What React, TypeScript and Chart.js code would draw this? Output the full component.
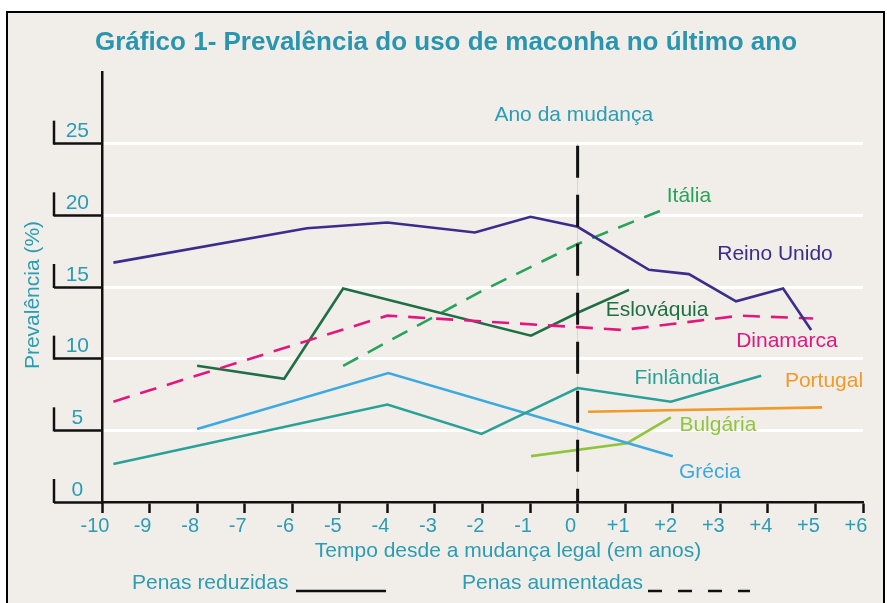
import React, { useEffect, useRef } from 'react';
import { Chart, registerables } from 'chart.js';

Chart.register(...registerables);

const TEAL = '#2a9cb4';
const TITLE_TEAL = '#2a95ae';
const BG = '#f1eee9';
const FONT = '"Liberation Sans", Arial, sans-serif';

const titleText = 'Gráfico 1- Prevalência do uso de maconha no último ano';
const xAxisTitle = 'Tempo desde a mudança legal (em anos)';
const yAxisTitle = 'Prevalência (%)';
const changeLabel = 'Ano da mudança';
const legendReduced = 'Penas reduzidas';
const legendIncreased = 'Penas aumentadas';

const yTickValues = [0, 5, 10, 15, 20, 25];

const reinoUnidoX = [-9.76, -5.69, -4.0, -2.16, -0.99, 0, 1.5, 2.34, 3.33, 4.32, 4.91];
const reinoUnidoY = [16.7, 19.1, 19.5, 18.8, 19.9, 19.2, 16.2, 15.9, 14.0, 14.9, 12.0];

const dinamarcaX = [-9.76, -4.0, -2.0, 0, 0.95, 3.41, 4.95];
const dinamarcaY = [7.0, 13.0, 12.6, 12.2, 12.0, 13.0, 12.8];

const eslovaquiaX = [-8.0, -6.17, -4.93, -0.98, 0, 1.08];
const eslovaquiaY = [9.5, 8.6, 14.9, 11.6, 13.2, 14.8];

const italiaX = [-4.93, -2.03, 0, 1.8];
const italiaY = [9.5, 14.7, 18.0, 20.4];

const finlandiaX = [-9.76, -4.0, -2.02, 0, 1.96, 3.86];
const finlandiaY = [2.65, 6.8, 4.75, 7.95, 7.0, 8.8];

const greciaX = [-8.0, -3.98, 2.0];
const greciaY = [5.1, 9.0, 3.2];

const bulgariaX = [-0.98, 1.04, 1.96];
const bulgariaY = [3.2, 4.1, 5.9];

const portugalX = [0.22, 5.14];
const portugalY = [6.3, 6.6];

const seriesNames = ['Reino Unido', 'Dinamarca', 'Eslováquia', 'Itália', 'Finlândia', 'Grécia', 'Bulgária', 'Portugal'];
const seriesColors = ['#3a2d8c', '#e2177e', '#1f6f45', '#27a35a', '#2aa198', '#3ca9e0', '#90c43c', '#f09a2a'];
const seriesDashed = [false, true, false, true, false, false, false, false];
const seriesXs = [reinoUnidoX, dinamarcaX, eslovaquiaX, italiaX, finlandiaX, greciaX, bulgariaX, portugalX];
const seriesYs = [reinoUnidoY, dinamarcaY, eslovaquiaY, italiaY, finlandiaY, greciaY, bulgariaY, portugalY];

// label anchor positions in data units (x years, y %)
const labelX = [4.15, 4.4, 1.67, 2.34, 2.09, 2.78, 2.95, 5.18];
const labelY = [17.3, 11.2, 13.4, 21.3, 8.65, 2.09, 5.37, 8.44];

const changeLabelX = -0.08;
const changeLabelY = 27.0;

const decorPlugin = {
  id: 'decor',
  beforeDraw(chart: any) {
    const ctx = chart.ctx;
    ctx.save();
    ctx.fillStyle = '#ffffff';
    ctx.fillRect(0, 0, chart.width, chart.height);
    ctx.fillStyle = BG;
    ctx.fillRect(7, 12, 877, 600);
    ctx.strokeStyle = '#000';
    ctx.lineWidth = 2;
    ctx.strokeRect(7, 12, 877, 600);
    ctx.restore();
  },
  beforeDatasetsDraw(chart: any) {
    const ctx = chart.ctx;
    const x = chart.scales.x;
    const y = chart.scales.y;
    ctx.save();
    ctx.strokeStyle = '#d6d3cc';
    ctx.lineWidth = 1;
    ctx.beginPath();
    ctx.moveTo(x.getPixelForValue(0), y.getPixelForValue(25));
    ctx.lineTo(x.getPixelForValue(0), y.getPixelForValue(0));
    ctx.stroke();
    ctx.restore();
  },
  afterDatasetsDraw(chart: any) {
    const ctx = chart.ctx;
    const x = chart.scales.x;
    const y = chart.scales.y;
    ctx.save();
    // change-year dashed line
    ctx.strokeStyle = '#111';
    ctx.lineWidth = 3;
    ctx.setLineDash([32, 17]);
    ctx.beginPath();
    ctx.moveTo(x.getPixelForValue(0), y.getPixelForValue(25) + 2);
    ctx.lineTo(x.getPixelForValue(0), y.getPixelForValue(0));
    ctx.stroke();
    ctx.setLineDash([]);

    // bracket verticals of y ticks
    ctx.lineWidth = 2.5;
    ctx.strokeStyle = '#111';
    yTickValues.forEach((v) => {
      const py = y.getPixelForValue(v);
      ctx.beginPath();
      ctx.moveTo(54, py - 23);
      ctx.lineTo(54, py + 1);
      ctx.stroke();
    });

    // series labels
    ctx.font = `21px ${FONT}`;
    ctx.textAlign = 'center';
    ctx.textBaseline = 'middle';
    seriesNames.forEach((n, i) => {
      ctx.fillStyle = seriesColors[i];
      ctx.fillText(n, x.getPixelForValue(labelX[i]), y.getPixelForValue(labelY[i]));
    });
    ctx.fillStyle = TEAL;
    ctx.fillText(changeLabel, x.getPixelForValue(changeLabelX), y.getPixelForValue(changeLabelY));

    // title
    ctx.fillStyle = TITLE_TEAL;
    ctx.font = `bold 26px ${FONT}`;
    ctx.fillText(titleText, 446, 43);

    // axis titles
    ctx.fillStyle = TEAL;
    ctx.font = `21px ${FONT}`;
    ctx.fillText(xAxisTitle, 508, 551);
    ctx.save();
    ctx.translate(33, 295);
    ctx.rotate(-Math.PI / 2);
    ctx.fillText(yAxisTitle, 0, 0);
    ctx.restore();

    // legend
    ctx.textAlign = 'left';
    ctx.fillText(legendReduced, 132, 583);
    ctx.fillText(legendIncreased, 462, 583);
    ctx.strokeStyle = '#111';
    ctx.lineWidth = 2.5;
    ctx.beginPath();
    ctx.moveTo(296, 591);
    ctx.lineTo(386, 591);
    ctx.stroke();
    ctx.setLineDash([14, 16]);
    ctx.beginPath();
    ctx.moveTo(648, 591);
    ctx.lineTo(750, 591);
    ctx.stroke();
    ctx.restore();
  },
};

export default function App() {
  const ref = useRef<HTMLCanvasElement | null>(null);
  useEffect(() => {
    if (!ref.current) return;
    const datasets = seriesNames.map((name, i) => ({
      label: name,
      data: seriesXs[i].map((xv, j) => ({ x: xv, y: seriesYs[i][j] })),
      borderColor: seriesColors[i],
      backgroundColor: seriesColors[i],
      borderWidth: 2.6,
      borderDash: seriesDashed[i] ? [17, 11] : [],
      pointRadius: 0,
      tension: 0,
      fill: false,
    }));
    const chart = new Chart(ref.current, {
      type: 'line',
      data: { datasets },
      options: {
        animation: false,
        responsive: false,
        devicePixelRatio: 1,
        layout: { padding: { top: 72, right: 24, left: 0, bottom: 0 } },
        plugins: {
          legend: { display: false },
          title: { display: false },
          tooltip: { enabled: false },
        },
        scales: {
          x: {
            type: 'linear',
            min: -10,
            max: 6,
            ticks: {
              stepSize: 1,
              color: TEAL,
              font: { family: FONT, size: 20 },
              labelOffset: -7,
              padding: 1,
              maxRotation: 0,
              autoSkip: false,
              callback: (v: any) => (Number(v) > 0 ? '+' + v : String(v)),
            },
            grid: {
              drawOnChartArea: false,
              drawTicks: true,
              tickLength: 11,
              tickColor: '#111',
              tickWidth: 2.5,
            },
            border: { color: '#111', width: 2.5 },
            afterFit: (s: any) => { s.height = 101; },
          },
          y: {
            type: 'linear',
            min: 0,
            max: 30,
            afterBuildTicks: (s: any) => {
              s.ticks = yTickValues.map((v) => ({ value: v }));
            },
            ticks: {
              color: TEAL,
              font: { family: FONT, size: 21 },
              crossAlign: 'center',
              labelOffset: -12,
              padding: -35,
            },
            grid: {
              color: (c: any) => (c.tick && c.tick.value === 0 ? 'rgba(0,0,0,0)' : '#ffffff'),
              lineWidth: 3,
              drawTicks: true,
              tickLength: 48,
              tickColor: '#111',
              tickWidth: 2.5,
            },
            border: { color: '#111', width: 2.5 },
            afterFit: (s: any) => { s.width = 102; },
          },
        },
      },
      plugins: [decorPlugin],
    });
    return () => chart.destroy();
  }, []);
  return (
    <div style={{ position: 'absolute', left: 0, top: 0, width: 887, height: 603 }}>
      <canvas ref={ref} width={887} height={603} />
    </div>
  );
}
